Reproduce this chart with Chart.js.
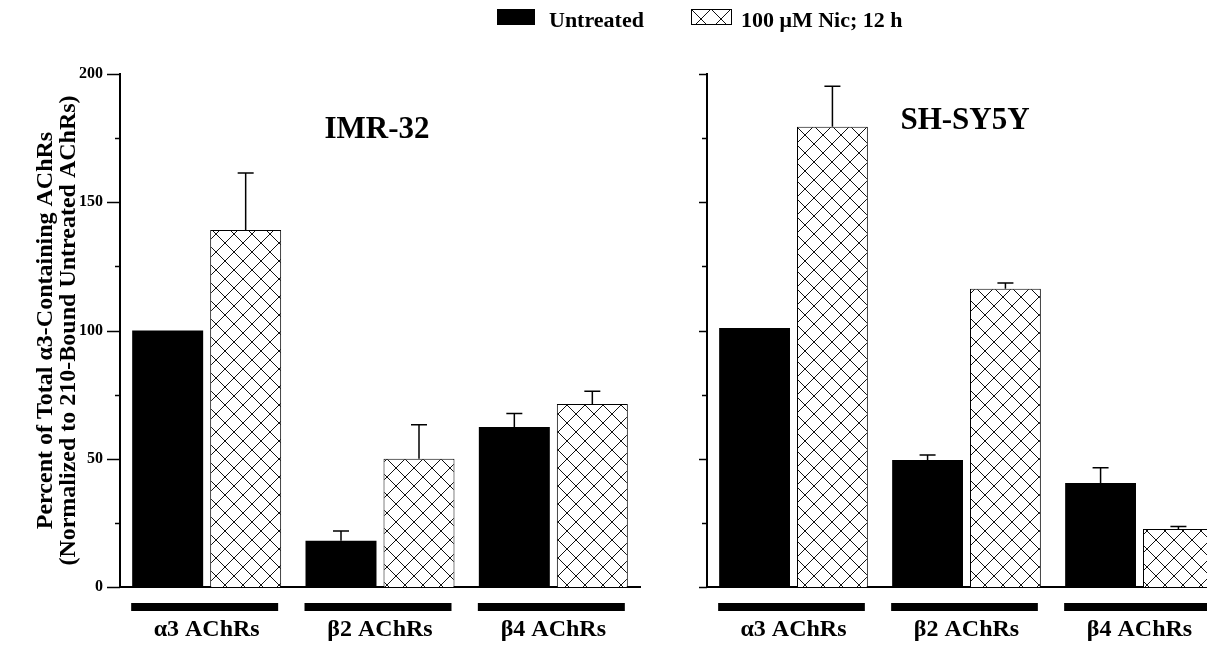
<!DOCTYPE html>
<html>
<head>
<meta charset="utf-8">
<script src="https://cdn.jsdelivr.net/npm/chart.js@4.4.1/dist/chart.umd.min.js"></script>
<style>
html,body{margin:0;padding:0;background:#fff;overflow:hidden;width:1207px;height:646px;}
#wrap{position:relative;width:1207px;height:646px;overflow:hidden;background:#fff;}
canvas.chart{position:absolute;top:0;}
#c1{left:0;}
#c2{left:670px;}
.legtext{position:absolute;top:9px;font-family:"Liberation Serif","Times New Roman",serif;font-weight:bold;font-size:22px;line-height:22px;color:#000;white-space:nowrap;}
#sw1{position:absolute;left:497px;top:9px;width:38px;height:16px;background:#000;}
#sw2{position:absolute;left:691px;top:9px;}
</style>
</head>
<body>
<div id="wrap">
  <canvas id="c1" class="chart" width="670" height="646"></canvas>
  <canvas id="c2" class="chart" width="556" height="646"></canvas>
  <div id="sw1"></div>
  <span class="legtext" style="left:549px;">Untreated</span>
  <canvas id="sw2" width="41" height="16"></canvas>
  <span class="legtext" style="left:741px;">100 μM Nic; 12 h</span>
</div>
<script>
// ---------- data ----------
const categories = ['α3 AChRs', 'β2 AChRs', 'β4 AChRs'];
const seriesNames = ['Untreated', '100 μM Nic; 12 h'];
const yTicks = [0, 50, 100, 150, 200];

const imrUntreated    = [100, 18.0, 62.4];
const imrUntreatedErr = [0,   3.8,  5.2];
const imrNic          = [139.2, 50.0, 71.3];
const imrNicErr       = [22.2, 13.3, 5.0];

const shUntreated     = [101.0, 49.5, 40.5];
const shUntreatedErr  = [0,     2.0,  6.0];
const shNic           = [179.4, 116.3, 22.6];
const shNicErr        = [15.8,  2.2,   1.0];

const yTitle = ['Percent of Total α3-Containing AChRs', '(Normalized to 210-Bound Untreated AChRs)'];

// ---------- helpers ----------
const SERIF = '"Liberation Serif", "Times New Roman", serif';

function makeHatch(size) {
  const c = document.createElement('canvas');
  c.width = size; c.height = size;
  const g = c.getContext('2d');
  g.fillStyle = '#fff';
  g.fillRect(0, 0, size, size);
  g.strokeStyle = '#111';
  g.lineWidth = 1;
  g.beginPath();
  g.moveTo(0, 0); g.lineTo(size, size);
  g.moveTo(size, 0); g.lineTo(0, size);
  g.stroke();
  return c;
}

const hatchTile = makeHatch(18);

// legend swatch
(function () {
  const c = document.getElementById('sw2');
  const g = c.getContext('2d');
  g.fillStyle = g.createPattern(makeHatch(20), 'repeat');
  g.fillRect(0, 0, c.width, c.height);
  g.strokeStyle = '#000';
  g.lineWidth = 1;
  g.strokeRect(0.5, 0.5, c.width - 1, c.height - 1);
})();

const panelPlugin = {
  id: 'panelExtras',
  afterDatasetsDraw(chart, args, opts) {
    const ctx = chart.ctx;
    const area = chart.chartArea;
    const ys = chart.scales.y;
    ctx.save();
    // error bars
    ctx.strokeStyle = '#000';
    ctx.lineWidth = 1.5;
    chart.data.datasets.forEach((ds, di) => {
      const meta = chart.getDatasetMeta(di);
      meta.data.forEach((bar, j) => {
        const e = ds.errors[j];
        if (!e) return;
        const yTop = ys.getPixelForValue(ds.data[j] + e);
        ctx.beginPath();
        ctx.moveTo(bar.x, bar.y);
        ctx.lineTo(bar.x, yTop);
        ctx.moveTo(bar.x - 8, yTop);
        ctx.lineTo(bar.x + 8, yTop);
        ctx.stroke();
      });
    });
    // y ticks (major / minor)
    ctx.lineWidth = 1.5;
    ys.ticks.forEach(t => {
      const y = Math.round(ys.getPixelForValue(t.value)) + 0.5;
      const len = (t.value % 50 === 0) ? opts.major : opts.minor;
      ctx.beginPath();
      ctx.moveTo(area.left - len, y);
      ctx.lineTo(area.left, y);
      ctx.stroke();
    });
    // category brackets under the axis
    ctx.fillStyle = '#000';
    const m0 = chart.getDatasetMeta(0), m1 = chart.getDatasetMeta(1);
    categories.forEach((c, j) => {
      const b0 = m0.data[j], b1 = m1.data[j];
      const l = b0.x - b0.width / 2 - 1, r = b1.x + b1.width / 2 - 3;
      ctx.fillRect(l, area.bottom + 16, r - l, 8);
    });
    // panel title
    ctx.font = 'bold 31px ' + SERIF;
    ctx.textAlign = 'center';
    ctx.textBaseline = 'alphabetic';
    ctx.fillText(opts.title, opts.tx, opts.ty);
    ctx.restore();
  }
};

function makeChart(id, untreated, untreatedErr, nic, nicErr, cfg) {
  return new Chart(document.getElementById(id), {
    type: 'bar',
    data: {
      labels: categories,
      datasets: [
        { label: seriesNames[0], data: untreated, errors: untreatedErr,
          backgroundColor: '#000', borderWidth: 0 },
        { label: seriesNames[1], data: nic, errors: nicErr,
          backgroundColor: document.getElementById(id).getContext('2d').createPattern(hatchTile, 'repeat'),
          borderColor: '#000', borderWidth: 1 }
      ]
    },
    options: {
      responsive: false,
      animation: false,
      devicePixelRatio: 1,
      categoryPercentage: 0.9,
      barPercentage: 0.91,
      layout: { padding: { top: 74, right: cfg.padRight, left: 0, bottom: 0 } },
      plugins: {
        legend: { display: false },
        tooltip: { enabled: false },
        panelExtras: { title: cfg.title, tx: cfg.tx, ty: cfg.ty, major: cfg.major, minor: cfg.minor }
      },
      scales: {
        x: {
          grid: { display: false, drawTicks: false },
          border: { display: true, color: '#000', width: 2 },
          ticks: {
            color: '#000', padding: 28,
            font: { family: SERIF, weight: 'bold', size: 24, lineHeight: 1.2 }
          },
          afterFit: s => { s.height = 59; }
        },
        y: {
          min: 0, max: 200,
          grid: { display: false, drawTicks: false },
          border: { display: true, color: '#000', width: 2 },
          ticks: {
            display: cfg.showLabels,
            stepSize: 25,
            color: '#000', padding: 17,
            font: { family: SERIF, weight: 'bold', size: 16 },
            callback: v => (yTicks.includes(v) ? String(v) : '')
          },
          title: {
            display: cfg.showLabels,
            text: yTitle,
            color: '#000',
            font: { family: SERIF, weight: 'bold', size: 24, lineHeight: '23px' },
            padding: { top: 34, bottom: 0 }
          },
          afterFit: s => { s.width = cfg.yWidth; }
        }
      }
    },
    plugins: [panelPlugin]
  });
}

makeChart('c1', imrUntreated, imrUntreatedErr, imrNic, imrNicErr,
  { padRight: 30, yWidth: 120, showLabels: true, title: 'IMR-32', tx: 377, ty: 138, major: 13, minor: 5 });
makeChart('c2', shUntreated, shUntreatedErr, shNic, shNicErr,
  { padRight: 0, yWidth: 37, showLabels: false, title: 'SH-SY5Y', tx: 295, ty: 129, major: 8, minor: 5 });
</script>
</body>
</html>
